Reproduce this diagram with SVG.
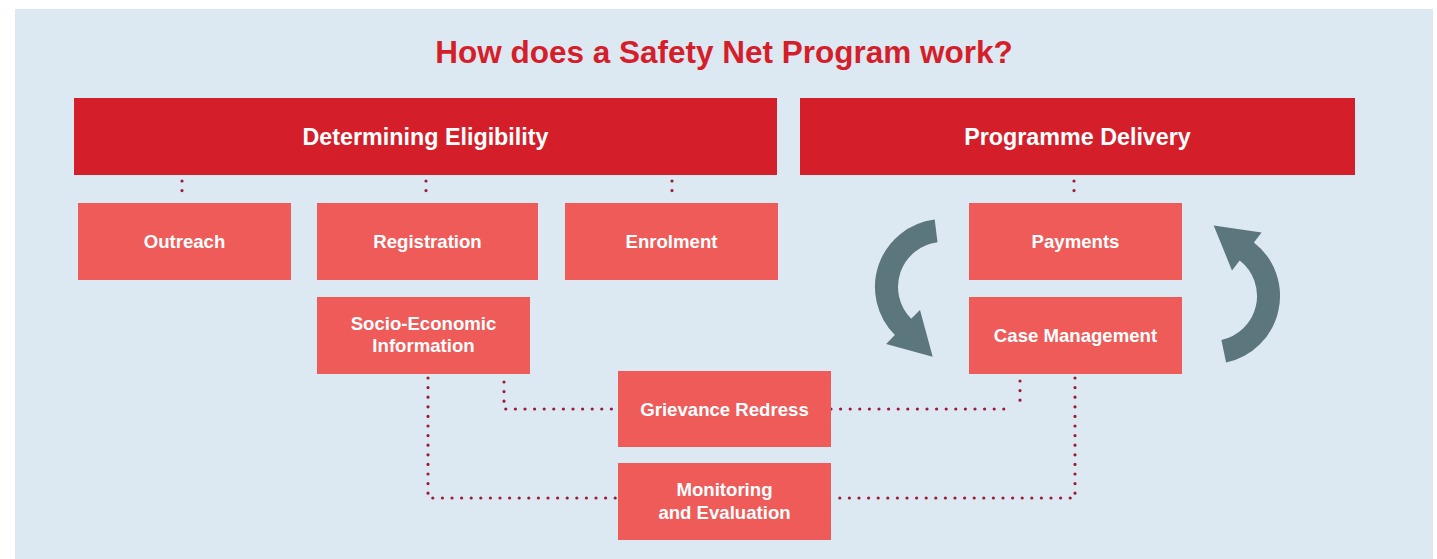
<svg xmlns="http://www.w3.org/2000/svg" width="1437" height="559" viewBox="0 0 1437 559">
<style>
.hdr{fill:#d41f2a}
.node{fill:#ee5b59}
.t{font-family:"Liberation Sans",Arial,sans-serif;font-weight:bold;fill:#ffffff;text-anchor:middle}
.ht{font-size:23.3px}
.nt{font-size:18.6px}
.dot{fill:none;stroke:#9e1b32;stroke-width:3.2;stroke-linecap:round;stroke-dasharray:0 9.6}
.arr{fill:#5b767c}
</style>
<rect x="0" y="0" width="1437" height="559" fill="#ffffff"/>
<rect x="15" y="9" width="1418" height="550" fill="#dce8f2"/>
<text x="724" y="63" font-family="Liberation Sans, Arial, sans-serif" font-weight="bold" font-size="31.5" fill="#d41f2a" text-anchor="middle">How does a Safety Net Program work?</text>
<g id="connectors">
<path class="dot" d="M182 181V200"/>
<path class="dot" d="M426 181V200"/>
<path class="dot" d="M672 181V200"/>
<path class="dot" d="M1074 181V200"/>
<path class="dot" d="M428 378V498H618"/>
<path class="dot" d="M504 382V409H618"/>
<path class="dot" d="M831 409H1004"/>
<path class="dot" d="M1020 381V408"/>
<path class="dot" d="M1075 378V498H831"/>
<path class="arr" d="M934.7 219.5A68 68 0 0 0 894.9 335.1L886.1 343.9L932.7 356.7L920 310L911.2 318.8A45 45 0 0 1 937.5 242.3Z"/>
<path class="arr" d="M1226.1 362.5A68 68 0 0 0 1253.9 242.4L1261.6 232.6L1213.7 225.6L1232 270.4L1239.7 260.5A45 45 0 0 1 1221.4 340Z"/>
</g>
<g id="eligibility"><rect class="hdr" x="74" y="98" width="703" height="77"/><text class="t ht" x="425.5" y="145">Determining Eligibility</text></g>
<g id="delivery"><rect class="hdr" x="800" y="98" width="555" height="77"/><text class="t ht" x="1077.5" y="145">Programme Delivery</text></g>
<g id="outreach"><rect class="node" x="78" y="203" width="213" height="77"/><text class="t nt" x="184.5" y="248">Outreach</text></g>
<g id="registration"><rect class="node" x="317" y="203" width="221" height="77"/><text class="t nt" x="427.5" y="248">Registration</text></g>
<g id="enrolment"><rect class="node" x="565" y="203" width="213" height="77"/><text class="t nt" x="671.5" y="248">Enrolment</text></g>
<g id="payments"><rect class="node" x="969" y="203" width="213" height="77"/><text class="t nt" x="1075.5" y="248">Payments</text></g>
<g id="case-management"><rect class="node" x="969" y="297" width="213" height="77"/><text class="t nt" x="1075.5" y="342">Case Management</text></g>
<g id="socio-economic"><rect class="node" x="317" y="297" width="213" height="77"/><text class="t nt" x="423.5" y="330">Socio-Economic</text><text class="t nt" x="423.5" y="352">Information</text></g>
<g id="grievance"><rect class="node" x="618" y="371" width="213" height="76"/><text class="t nt" x="724.5" y="416">Grievance Redress</text></g>
<g id="monitoring"><rect class="node" x="618" y="463" width="213" height="77"/><text class="t nt" x="724.5" y="496">Monitoring</text><text class="t nt" x="724.5" y="519">and Evaluation</text></g>
</svg>
